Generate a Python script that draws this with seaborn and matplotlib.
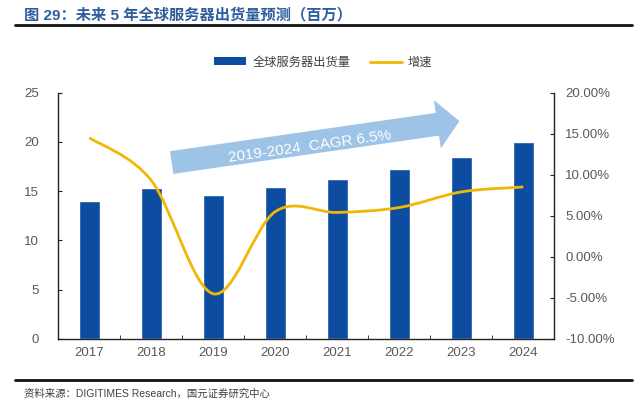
import numpy as np
import seaborn as sns
import matplotlib.pyplot as plt
from matplotlib.path import Path
from matplotlib.patches import PathPatch, Patch, FancyArrowPatch
from matplotlib.lines import Line2D
from matplotlib.ticker import FuncFormatter

years = ['2017', '2018', '2019', '2020', '2021', '2022', '2023', '2024']
shipments = [14.0, 15.3, 14.6, 15.4, 16.2, 17.2, 18.5, 20.0]
growth = [14.5, 9.3, -4.5, 5.5, 5.4, 6.0, 7.9, 8.5]

title = '图 29：未来 5 年全球服务器出货量预测（百万）'
source = '资料来源：DIGITIMES Research，国元证券研究中心'
bar_label = '全球服务器出货量'
line_label = '增速'
cagr_text = '2019-2024  CAGR 6.5%'

bar_color = '#0D4DA1'
line_color = '#F2B705'
arrow_color = '#9DC3E6'
tick_color = '#595959'

sns.set_style('white')
plt.rcParams['font.family'] = ['Liberation Sans', 'Noto Sans CJK SC', 'DejaVu Sans']

fig = plt.figure(figsize=(6.4, 4.04), dpi=100)
ax = fig.add_axes([0.091, 0.161, 0.775, 0.610])

sns.barplot(x=years, y=shipments, color=bar_color, width=0.34, saturation=1, ax=ax)
ax.set_xlim(-0.5, len(years) - 0.5)
ax.set_ylim(0, 25)
ax.set_yticks(range(0, 26, 5))
ax.set_xlabel('')
ax.set_ylabel('')

# ticks sit between the categories, pointing inward
ax.set_xticks(np.arange(len(years)))
ax.set_xticks(np.arange(len(years) + 1) - 0.5, minor=True)
ax.tick_params(axis='x', which='major', length=0, labelsize=9.5, labelcolor=tick_color, pad=6)
ax.tick_params(axis='x', which='minor', direction='in', length=3, color='#222222', bottom=True)
ax.tick_params(axis='y', direction='in', length=3, color='#222222', left=True,
               labelsize=9.5, labelcolor=tick_color, pad=14)

for side in ['top', 'right']:
    ax.spines[side].set_visible(False)
for side in ['left', 'bottom']:
    ax.spines[side].set_color('#222222')
    ax.spines[side].set_linewidth(1.0)

ax2 = ax.twinx()
ax2.set_ylim(-10, 20)
ax2.set_yticks(range(-10, 21, 5))
ax2.yaxis.set_major_formatter(FuncFormatter(lambda v, p: f'{v:.2f}%'))
ax2.tick_params(axis='y', direction='in', length=3, color='#222222', right=True,
                labelsize=9.5, labelcolor=tick_color, pad=8)
for side in ['top', 'left', 'bottom']:
    ax2.spines[side].set_visible(False)
ax2.spines['right'].set_color('#222222')
ax2.spines['right'].set_linewidth(1.0)

# smoothed growth line (Excel style bezier through the points)
pts = np.column_stack([np.arange(len(growth)), growth]).astype(float)
verts = [pts[0]]
codes = [Path.MOVETO]
n = len(pts)
for i in range(n - 1):
    p_prev = pts[max(i - 1, 0)]
    p0 = pts[i]
    p1 = pts[i + 1]
    p_next = pts[min(i + 2, n - 1)]
    c1 = p0 + (p1 - p_prev) / 6
    c2 = p1 - (p_next - p0) / 6
    verts += [c1, c2, p1]
    codes += [Path.CURVE4] * 3
ax2.add_patch(PathPatch(Path(verts, codes), fill=False, edgecolor=line_color,
                        linewidth=2.0, transform=ax2.transData, zorder=3))

# CAGR arrow
arrow = FancyArrowPatch((1.33, 17.9), (5.97, 22.1), transform=ax.transData,
                        arrowstyle='simple,head_length=16,head_width=35,tail_width=16.5',
                        mutation_scale=1, shrinkA=0, shrinkB=0,
                        color=arrow_color, linewidth=0, zorder=4, clip_on=False)
ax.add_patch(arrow)
ax.text(3.55, 19.55, cagr_text, color='white', fontsize=11, rotation=8,
        ha='center', va='center', zorder=5)

# legend
handles = [Patch(facecolor=bar_color, edgecolor='none'),
           Line2D([0], [0], color=line_color, linewidth=2)]
fig.legend(handles, [bar_label, line_label], loc='center', bbox_to_anchor=(0.505, 0.845),
           ncol=2, frameon=False, fontsize=8.8, handlelength=2.6, handleheight=0.6,
           columnspacing=1.6, handletextpad=0.5, labelcolor='#404040')

# header and footer
fig.text(0.038, 0.963, title, color='#2E5E9E', fontsize=11, fontweight='bold',
         ha='left', va='center')
fig.add_artist(Line2D([0.023, 0.988], [0.937, 0.937], color='#111111', linewidth=2.0))
fig.add_artist(Line2D([0.023, 0.988], [0.059, 0.059], color='#111111', linewidth=2.0))
fig.text(0.038, 0.025, source, color='#404040', fontsize=7.5, ha='left', va='center')

fig.savefig('out.png', dpi=100, facecolor='white')
